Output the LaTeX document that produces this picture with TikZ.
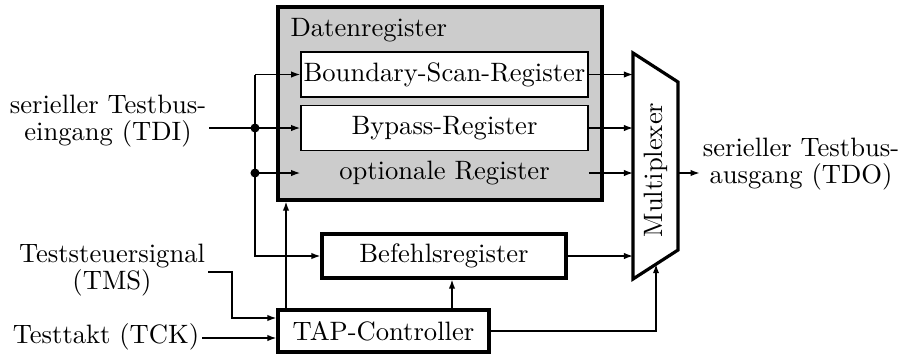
\documentclass[tikz,border=0pt]{standalone}
\usetikzlibrary{arrows.meta,calc}
\begin{document}
\def\u{0.376pt}
\begin{tikzpicture}[x=\u, y=-\u,
  arr/.style={-{Latex[length=3.4pt,width=2.4pt]}, line width=0.5pt},
  thickbox/.style={draw, line width=1.2pt, inner sep=0},
  regbox/.style={draw, line width=0.6pt, fill=white, minimum width=287*\u, minimum height=45*\u, inner sep=0},
  lbl/.style={inner sep=1pt, align=center, font=\fontsize{10pt}{10.2pt}\selectfont},
  jdot/.style={circle, fill, inner sep=0, minimum size=3.4pt}]
\useasboundingbox (0,0) rectangle (907,356);

% Datenregister block
\node[thickbox, fill=black!20, minimum width=324*\u, minimum height=193*\u] (dr) at (440,103.5) {};
\node[anchor=base west, inner sep=0] (drl) at (290,36) {Datenregister};
\node[regbox] (bsr) at (444.5,74.5) {Boundary-Scan-Register};
\node[regbox] (byp) at (444.5,128) {Bypass-Register};
\node[regbox, draw=none, fill=none] (opt) at (444.5,173) {optionale Register};

% Befehlsregister and TAP
\node[thickbox, minimum width=244*\u, minimum height=44*\u] (bef) at (444,256) {Befehlsregister};
\node[thickbox, minimum width=211*\u, minimum height=42*\u] (tap) at (383.5,331) {TAP-Controller};

% Multiplexer
\coordinate (m1) at (633,53);
\coordinate (m2) at (678,82);
\coordinate (m3) at (678,250);
\coordinate (m4) at (633,279);
\draw[line width=1.2pt, fill=white] (m1) -- (m2) -- (m3) -- (m4) -- cycle;
\node[rotate=90, inner sep=0] (mux) at (656,170) {Multiplexer};

% external labels
\node[lbl] (tdi) at (108,121) {serieller Testbus-\\eingang (TDI)};
\node[lbl] (tdo) at (801,164) {serieller Testbus-\\ausgang (TDO)};
\node[lbl] (tms) at (112,270) {Teststeuersignal\\(TMS)};
\node[lbl] (tck) at (106,337) {Testtakt (TCK)};

% bus on the left
\coordinate (bt) at (255,74.5);
\coordinate (bb) at (255,256);
\node[jdot] (j1) at (bt |- byp.west) {};
\node[jdot] (j2) at (bt |- opt.west) {};
\draw[arr] (tdi.east |- byp.west) -- (byp.west);
\draw[arr] (bt) -- (bsr.west);
\draw[arr] (bt) -- (bb) -- (bef.west);
\draw[arr] (j2.center) -- (opt.west);

% into multiplexer
\draw[arr] (bsr.east) -- (bsr.east -| m1);
\draw[arr] (byp.east) -- (byp.east -| m1);
\draw[arr] (opt.east) -- (opt.east -| m1);
\draw[arr] (bef.east) -- (bef.east -| m1);

% multiplexer output
\coordinate (mo) at (678,173);
\draw[arr] (mo) -- (tdo.west |- mo);

% TAP controller connections
\coordinate (tx) at (286,0);
\draw[arr] (tap.north -| tx) -- (dr.south -| tx);
\coordinate (ty) at (452,0);
\draw[arr] (tap.north -| ty) -- (bef.south -| ty);
\coordinate (mb) at ($(m4)!0.511!(m3)$);
\draw[arr] (tap.east) -- (tap.east -| mb) -- (mb);

% inputs to TAP
\coordinate (tmsin) at ($(tap.west)+(0,-13)$);
\coordinate (tckin) at ($(tap.west)+(0,7)$);
\coordinate (tmsk) at (232,272);
\draw[arr] (tms.east |- tmsk) -- (tmsk) -- (tmsk |- tmsin) -- (tmsin);
\draw[arr] (tck.east |- tckin) -- (tckin);
\end{tikzpicture}
\end{document}
